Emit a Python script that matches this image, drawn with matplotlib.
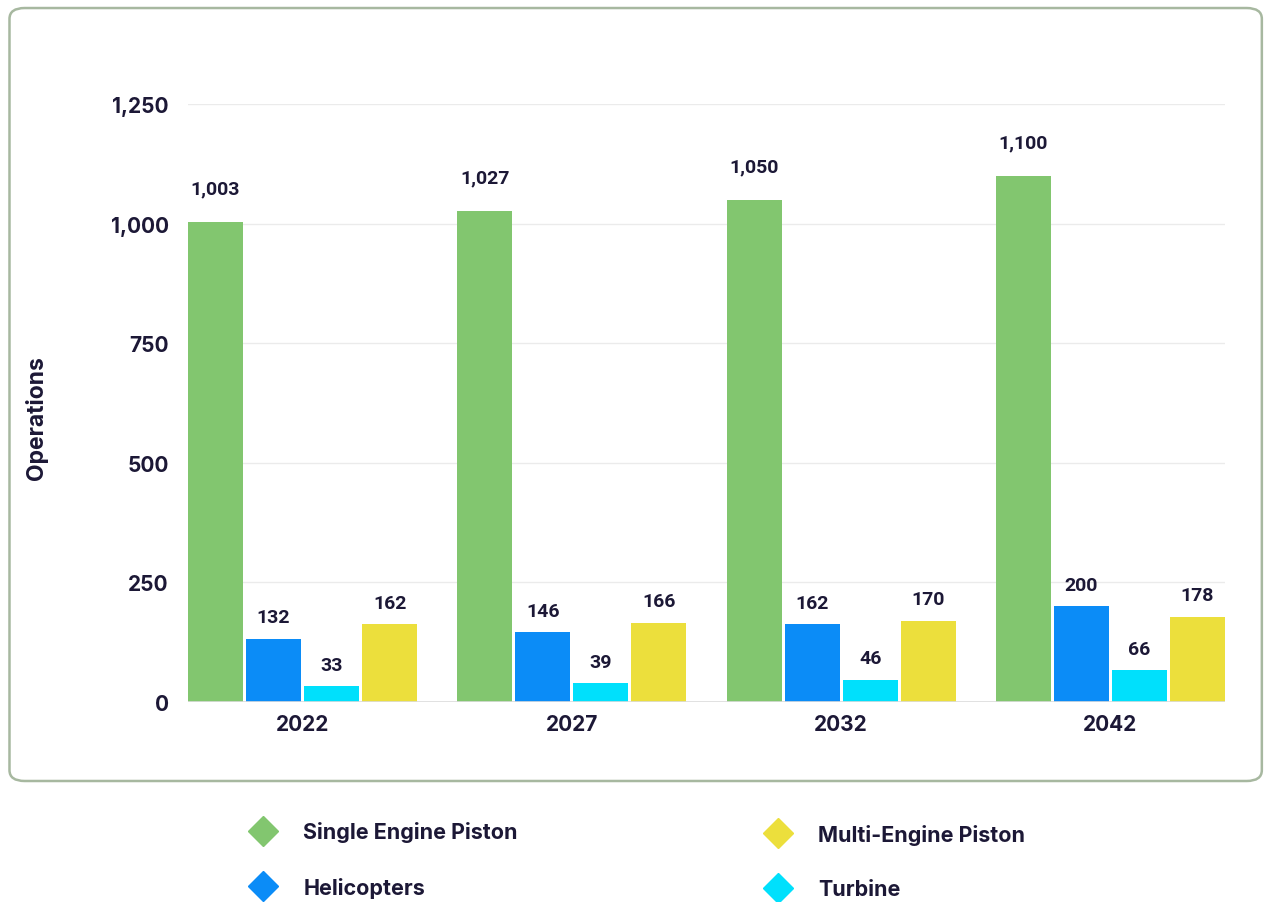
import matplotlib.pyplot as plt
import numpy as np
from matplotlib.patches import FancyBboxPatch
from matplotlib.lines import Line2D
from matplotlib.ticker import FuncFormatter

years = ["2022", "2027", "2032", "2042"]
series_names = ["Single Engine Piston", "Helicopters", "Turbine", "Multi-Engine Piston"]
single_engine = [1003, 1027, 1050, 1100]
helicopters = [132, 146, 162, 200]
turbine = [33, 39, 46, 66]
multi_engine = [162, 166, 170, 178]
y_ticks = [0, 250, 500, 750, 1000, 1250]

colors = ["#82c66f", "#0b8cf7", "#00e0fc", "#ecdf3c"]
text_color = "#1c1836"
tick_font = ["Inter", "DejaVu Sans"]
value_font = ["Roboto", "DejaVu Sans"]

fig = plt.figure(figsize=(12.65, 9.03), dpi=100)

# rounded panel behind the chart
panel = FancyBboxPatch(
    (0.0075, 0.134), 0.990, 0.856,
    boxstyle="round,pad=0,rounding_size=0.012",
    transform=fig.transFigure, facecolor="white",
    edgecolor="#a7b8a0", linewidth=1.8, zorder=-5,
)
fig.patches.append(panel)

ax = fig.add_axes([0.1486, 0.2215, 0.8198, 0.6622])
ax.set_facecolor("none")

x = np.arange(len(years))
step = 0.2156
width = 0.2045
all_series = [single_engine, helicopters, turbine, multi_engine]
for i, (vals, col) in enumerate(zip(all_series, colors)):
    pos = x + (i - 1.5) * step
    bars = ax.bar(pos, vals, width=width, color=col, zorder=3)
    off = 24 if i == 0 else 15.5
    for b, v in zip(bars, vals):
        ax.annotate(f"{v:,}", (b.get_x() + b.get_width() / 2, v),
                    xytext=(0, off), textcoords="offset points",
                    ha="center", va="center", fontsize=14,
                    fontweight="bold", color=text_color, family=value_font)

ax.set_xlim(-1.5 * step - width / 2, 3 + 1.5 * step + width / 2)
ax.set_ylim(0, 1250)
ax.set_yticks(y_ticks)
ax.yaxis.set_major_formatter(FuncFormatter(lambda v, p: f"{int(v):,}"))
ax.set_xticks(x)
ax.set_xticklabels(years)
ax.grid(axis="y", color="#ebebeb", linewidth=1, zorder=0)
for s in ax.spines.values():
    s.set_visible(False)
ax.axhline(0, color="#dcdcdc", linewidth=1.2, zorder=4)
ax.tick_params(axis="both", length=0)
ax.tick_params(axis="y", pad=14)
ax.tick_params(axis="x", pad=9)
for lab in ax.get_yticklabels() + ax.get_xticklabels():
    lab.set_fontfamily(tick_font)
    lab.set_fontweight("bold")
    lab.set_fontsize(15)
    lab.set_color(text_color)

ax.set_ylabel("Operations", fontsize=16.5, fontweight="bold",
              color=text_color, family=tick_font)
ax.yaxis.set_label_coords(-0.135, 0.477)

# legend in two columns below the panel
def handle(c):
    return Line2D([], [], marker="D", linestyle="none", markersize=15,
                  markerfacecolor=c, markeredgecolor=c)

leg_kw = dict(frameon=False, loc="upper left", labelspacing=1.6,
              handletextpad=1.3, borderaxespad=0, handlelength=1.1,
              prop={"family": tick_font, "weight": "bold", "size": 15.5})
leg1 = fig.legend([handle(colors[0]), handle(colors[1])],
                  [series_names[0], series_names[1]],
                  bbox_to_anchor=(0.192, 0.099), **leg_kw)
leg2 = fig.legend([handle(colors[3]), handle(colors[2])],
                  [series_names[3], series_names[2]],
                  bbox_to_anchor=(0.599, 0.096), **leg_kw)
for lg in (leg1, leg2):
    for t in lg.get_texts():
        t.set_color(text_color)

fig.savefig("out.png", dpi=100)
